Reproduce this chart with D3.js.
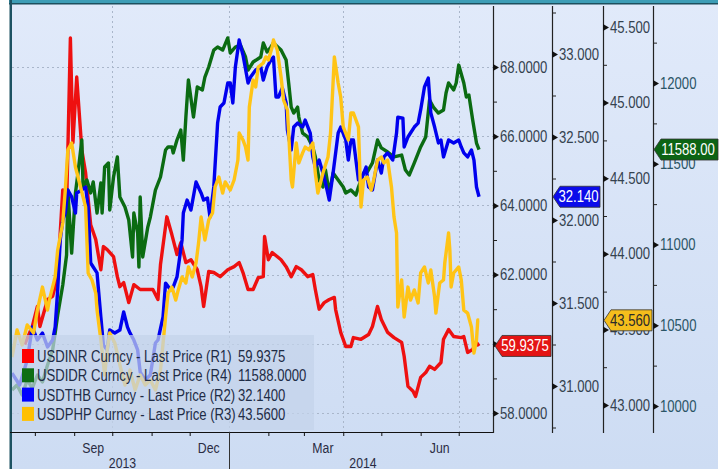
<!DOCTYPE html>
<html><head><meta charset="utf-8">
<script src="https://cdn.jsdelivr.net/npm/d3@7"></script>
<style>
body{margin:0;background:#ffffff;}
svg{display:block;font-family:"Liberation Sans",Arial,sans-serif;}
</style>
</head><body>
<svg id="chart" width="720" height="469"></svg>
<script>
// ---------- DATA ----------
const startDate = "2013-07-14"; // day 0 of the day-offset arrays
const seriesNames = ["USDINR Curncy - Last Price (R1)","USDIDR Curncy - Last Price (R4)","USDTHB Curncy - Last Price (R2)","USDPHP Curncy - Last Price (R3)"];
const lastValues = ["59.9375","11588.0000","32.1400","43.5600"];
const tagLabels = ["59.9375","11588.00","32.140","43.560"];

const inrDays = [10,16,20,22,28,32,36,38,40,43,46,48,51,55,58,62,66,70,72,75,80,83,85,88,92,96,101,107,111,115,117,122,126,130,133,137,141,146,149,151,155,159,164,170,175,179,182,186,190,194,198,199,202,205,212,216,220,224,228,233,237,239,242,246,250,254,255,259,263,267,269,275,281,284,288,291,296,301,307,309,312,316,318,322,326,329,333,338,340,344,348,354,356,359,363,366,368];
const inrValues = [59.98,60.50,61.08,60.50,61.28,61.37,61.94,63.21,64.45,63.96,68.84,65.81,67.71,65.61,64.94,63.44,63.01,62.14,62.81,62.72,62.52,61.94,61.65,61.77,61.19,61.71,61.57,61.57,61.57,61.28,62.29,63.67,63.15,62.58,62.92,62.35,62.43,62.14,61.65,61.08,62.09,62.06,61.94,62.14,62.23,62.35,62.06,61.57,61.57,61.91,61.94,63.10,62.43,62.64,62.43,62.23,61.94,62.23,62.14,61.94,62.00,61.57,61.00,61.19,61.28,61.34,60.99,60.33,59.92,59.92,60.18,60.13,60.27,60.50,61.08,60.70,60.33,60.18,60.04,59.64,58.77,58.63,58.48,59.03,59.17,59.35,59.26,59.46,60.13,60.41,60.21,60.18,60.21,59.75,59.84,60.04,59.9375];

const idrDays = [0,4,8,12,16,20,24,28,32,34,36,40,43,44,47,50,52,55,56,59,62,64,67,70,71,73,76,77,80,83,85,89,92,95,96,99,100,101,103,107,109,113,117,121,123,126,127,130,133,135,137,139,143,146,150,152,155,159,162,166,170,172,176,180,184,186,190,196,198,201,204,206,212,216,218,220,222,225,226,229,233,237,239,242,245,247,250,253,257,261,263,267,271,273,277,280,284,288,291,296,301,307,310,313,317,322,326,329,332,336,340,342,344,348,350,352,356,358,360,363,366,368];
const idrValues = [10099,10130,10068,10161,10111,10192,10149,10254,10347,10452,10563,10749,10935,11337,10947,11319,11443,11647,11356,11399,11319,11387,11195,11381,11195,11480,11505,11214,11418,11542,11294,11232,11152,10923,11195,11071,10861,11294,10923,11108,11170,11337,11418,11585,11604,11604,11567,11647,11709,11523,11789,12019,11789,11975,11957,12037,12099,12204,12223,12204,12279,12186,12223,12235,12161,12080,12130,12161,12248,12192,12223,12248,12204,12142,12000,11851,11814,11851,11789,11690,11666,11604,11542,11399,11356,11461,11319,11443,11399,11356,11319,11337,11306,11356,11443,11449,11505,11647,11598,11573,11542,11554,11461,11430,11505,11604,11666,11895,11851,11814,11833,11938,12000,11957,12000,12111,12000,11913,11926,11771,11628,11588];

const thbDays = [0,6,12,16,20,24,28,32,34,36,38,40,42,44,47,50,51,55,58,60,62,64,67,70,72,75,77,81,85,88,91,93,96,99,101,105,109,113,115,119,121,125,127,130,134,135,138,141,145,149,151,154,156,159,162,164,167,170,172,174,176,179,182,186,188,192,196,198,201,204,206,208,210,213,216,217,220,222,225,229,231,235,237,239,242,245,247,250,253,257,259,263,265,267,269,273,275,279,281,284,288,291,293,296,300,303,304,308,309,312,314,317,320,322,325,328,330,333,336,338,340,344,348,352,354,356,359,362,364,366,368];
const thbValues = [31.078,31.006,31.157,31.355,31.277,31.319,31.235,31.277,31.355,31.578,31.880,32.000,32.042,32.181,32.139,32.042,32.163,32.181,32.199,32.078,31.741,31.717,31.681,31.416,31.247,31.217,31.337,31.319,31.337,31.446,31.355,31.319,31.277,31.217,31.084,31.036,31.066,31.259,31.277,31.416,31.620,31.578,31.596,31.657,31.880,32.042,32.120,32.060,32.229,32.163,32.120,32.133,32.018,32.199,32.584,32.681,32.705,32.825,32.825,32.705,32.922,33.084,32.994,32.825,32.861,32.904,32.922,32.843,32.922,32.964,32.982,32.741,32.741,32.795,32.705,32.542,32.422,32.560,32.584,32.560,32.602,32.524,32.380,32.319,32.361,32.283,32.223,32.120,32.283,32.524,32.560,32.482,32.361,32.482,32.482,32.241,32.241,32.319,32.199,32.181,32.361,32.283,32.380,32.404,32.361,32.524,32.620,32.614,32.440,32.500,32.524,32.560,32.584,32.663,32.801,32.855,32.645,32.560,32.464,32.482,32.380,32.482,32.464,32.482,32.440,32.404,32.380,32.422,32.361,32.199,32.140];

const phpDays = [0,4,8,12,17,20,24,28,30,34,36,40,42,44,47,50,54,58,60,63,66,67,70,73,75,77,81,85,89,93,97,101,105,109,113,117,121,123,126,129,131,134,137,139,142,145,147,149,152,155,158,160,163,166,168,172,175,178,179,182,184,186,187,190,192,194,198,200,202,205,206,209,212,214,217,220,221,224,226,229,231,234,237,239,241,245,249,251,254,257,259,261,265,267,269,273,275,277,280,283,285,288,291,293,296,299,301,303,304,307,309,312,314,317,320,322,325,328,330,333,334,337,340,341,344,345,346,348,352,354,356,359,362,364,366,367,368];
const phpValues = [43.317,43.496,43.397,43.529,43.476,43.628,43.780,43.628,43.714,43.847,44.025,44.204,44.422,44.687,44.733,44.574,44.442,44.310,43.873,43.827,43.741,43.628,43.430,43.198,43.364,43.476,43.410,43.265,43.132,43.231,43.099,43.198,43.132,43.165,43.099,43.231,43.582,43.741,43.780,43.694,43.761,43.847,43.807,43.913,43.847,43.939,44.071,44.243,44.091,44.224,44.270,44.442,44.508,44.402,44.475,44.422,44.488,44.620,44.799,44.753,44.706,44.620,44.971,45.149,45.103,45.235,45.262,45.302,45.282,45.368,45.414,45.348,45.169,45.017,44.951,44.488,44.442,44.733,44.601,44.667,44.706,44.687,44.733,44.534,44.402,44.534,44.640,44.799,45.302,45.130,45.037,44.839,44.753,44.931,44.931,44.839,44.310,44.488,44.508,44.422,44.488,44.620,44.640,44.601,44.620,44.442,44.243,44.138,43.648,43.827,43.582,43.780,43.694,43.761,43.675,43.873,43.913,43.807,43.893,43.714,43.608,43.807,43.827,43.939,44.138,44.025,43.780,43.873,43.913,43.827,43.628,43.608,43.516,43.344,43.430,43.562,43.560];

const r1Ticks = [58,59,60,61,62,63,64,65,66,67,68];
const r1Major = [58,60,62,64,66,68];
const r2Ticks = [30.75,31,31.25,31.5,31.75,32,32.25,32.5,32.75,33,33.25];
const r2Major = [31,31.5,32,32.5,33];
const r3Ticks = [43,43.25,43.5,43.75,44,44.25,44.5,44.75,45,45.25,45.5];
const r3Major = [43,43.5,44,44.5,45,45.5];
const r4Ticks = [10000,10250,10500,10750,11000,11250,11500,11750,12000,12250];
const r4Major = [10000,10500,11000,11500,12000];
const monthLabels = ["Sep","Dec","Mar","Jun"];
const monthLabelDates = ["2013-09-16","2013-12-16","2014-03-16","2014-06-16"];
const yearLabels = ["2013","2014"];
const gridDates = ["2013-10-01","2014-01-01","2014-04-01","2014-07-01"];

// ---------- LAYOUT ----------
const SX = 0.82; // horizontal squeeze to mimic a narrow face
const svg = d3.select("#chart");
const parse = d3.timeParse("%Y-%m-%d");
const t0 = parse(startDate);
const L = 12, R = 493, T = 6, B = 432;
const colors = ["#ee1010","#0b6b12","#0000ee","#ffc416"];
const swatch = ["#ff0000","#0d6e14","#0000ff","#ffc000"];

const x = d3.scaleTime().domain([parse("2013-07-14"), parse("2014-07-28")]).range([L, R]);
const y1 = d3.scaleLinear().domain([58,68]).range([413,67]);
const y2 = d3.scaleLinear().domain([31,33]).range([386,54]);
const y3 = d3.scaleLinear().domain([43,45.5]).range([405,27]);
const y4 = d3.scaleLinear().domain([10000,12000]).range([406,83]);

function ntext(parent, px, py, size, color, anchor, str){
  return parent.append("text").attr("transform",`translate(${px},${py}) scale(${SX},1)`)
    .attr("font-size",size).attr("fill",color).attr("text-anchor",anchor).text(str);
}

const defs = svg.append("defs");
const g = defs.append("linearGradient").attr("id","bg").attr("x1",0).attr("y1",0).attr("x2",0).attr("y2",1);
g.append("stop").attr("offset","0%").attr("stop-color","#e1eafa");
g.append("stop").attr("offset","100%").attr("stop-color","#cddcf3");
defs.append("clipPath").attr("id","plotclip").append("rect").attr("x",L).attr("y",T).attr("width",R-L).attr("height",B-T);

svg.append("rect").attr("x",11).attr("y",0).attr("width",707).attr("height",469).attr("fill","url(#bg)");
// header band
svg.append("rect").attr("x",9).attr("y",0).attr("width",709).attr("height",3).attr("fill","#3d9db6");
svg.append("rect").attr("x",9).attr("y",3).attr("width",709).attr("height",1.5).attr("fill","#1d4f5e");
svg.append("rect").attr("x",9.5).attr("y",0).attr("width",2.5).attr("height",469).attr("fill","#1d5262");

// grid
const grid = svg.append("g").attr("stroke","#a9b6ca").attr("stroke-width",1).attr("stroke-dasharray","2,3");
grid.selectAll("line.h").data(r1Major).join("line").attr("class","h")
  .attr("x1",L).attr("x2",R).attr("y1",d=>Math.round(y1(d))+0.5).attr("y2",d=>Math.round(y1(d))+0.5);
grid.selectAll("line.v").data(gridDates).join("line").attr("class","v")
  .attr("x1",d=>Math.round(x(parse(d)))+0.5).attr("x2",d=>Math.round(x(parse(d)))+0.5).attr("y1",T).attr("y2",B);

// lines
const series = [
  {days:inrDays, vals:inrValues, y:y1},
  {days:idrDays, vals:idrValues, y:y4},
  {days:thbDays, vals:thbValues, y:y2},
  {days:phpDays, vals:phpValues, y:y3}
];
const lg = svg.append("g").attr("clip-path","url(#plotclip)");
series.forEach((s,i)=>{
  const pts = s.days.map((d,k)=>[d3.timeDay.offset(t0,d), s.vals[k]]);
  const line = d3.line().x(p=>x(p[0])).y(p=>s.y(p[1])).curve(d3.curveLinear);
  lg.append("path").datum(pts).attr("d",line).attr("fill","none")
    .attr("stroke",colors[i]).attr("stroke-width",3.4).attr("stroke-linejoin","round");
});

// legend
svg.append("rect").attr("x",12).attr("y",335).attr("width",302).attr("height",95)
  .attr("fill","#c3d2ea").attr("opacity",0.72);
const leg = svg.append("g");
seriesNames.forEach((n,i)=>{
  const cy = 356 + i*19.3;
  leg.append("rect").attr("x",22).attr("y",cy-7).attr("width",12).attr("height",14).attr("fill",swatch[i]);
  ntext(leg, 37, cy+6, 16, "#1e2c46", "start", n);
  ntext(leg, 238, cy+6, 16, "#1e2c46", "start", lastValues[i]);
});

// bottom axis
svg.append("line").attr("x1",10).attr("x2",R).attr("y1",B+0.5).attr("y2",B+0.5).attr("stroke","#111").attr("stroke-width",1);
const xa = svg.append("g").attr("transform",`translate(0,${B})`)
  .call(d3.axisBottom(x).ticks(d3.timeMonth.every(1)).tickSize(4).tickFormat(""));
xa.select(".domain").remove();
xa.selectAll("line").attr("stroke","#111");
const bt = svg.append("g");
monthLabels.forEach((m,i)=>ntext(bt, x(parse(monthLabelDates[i])), 453, 15, "#2a2c44", "middle", m));
const yearStart = [x.range()[0], x(parse("2014-01-01"))];
const yearEnd = [x(parse("2014-01-01")), x.range()[1]];
yearLabels.forEach((yl,i)=>ntext(bt, (yearStart[i]+yearEnd[i])/2+2, 468, 15, "#2a2c44", "middle", yl));
svg.append("line").attr("x1",Math.round(x(parse("2014-01-01")))+0.5).attr("x2",Math.round(x(parse("2014-01-01")))+0.5)
  .attr("y1",B).attr("y2",469).attr("stroke","#333").attr("stroke-width",1);

// right axes
function rightAxis(scale, ticks, major, xpos, fmt, color){
  const ag = svg.append("g").attr("transform",`translate(${xpos},0)`);
  ag.append("line").attr("x1",0.5).attr("x2",0.5).attr("y1",T).attr("y2",B+1).attr("stroke","#222").attr("stroke-width",1.2);
  const ax = d3.axisRight(scale).tickValues(ticks).tickSize(4).tickPadding(8)
    .tickFormat(d=>major.includes(d)?fmt(d):"");
  const gg = ag.append("g").call(ax);
  gg.select(".domain").remove();
  gg.selectAll(".tick line").attr("stroke","#222").attr("stroke-width",1);
  gg.selectAll(".tick").filter(d=>major.includes(d)).select("line").remove();
  gg.selectAll(".tick").filter(d=>major.includes(d)).append("path")
    .attr("d","M0,-3.5L6,0L0,3.5Z").attr("fill","#111");
  gg.selectAll(".tick text").attr("font-size",16).attr("fill",color)
    .attr("font-family","'Liberation Sans',Arial,sans-serif")
    .attr("x",7/SX).attr("transform",`scale(${SX},1)`);
  gg.selectAll(".tick").filter(d=>scale(d)<T-2||scale(d)>B+2).remove();
}
rightAxis(y1, r1Ticks, r1Major, R, d3.format(".4f"), "#34424f");
rightAxis(y2, r2Ticks, r2Major, 552, d3.format(".3f"), "#34424f");
rightAxis(y3, r3Ticks, r3Major, 603, d3.format(".3f"), "#34424f");
rightAxis(y4, r4Ticks, r4Major, 653, d3.format("d"), "#2b5566");

// value tags
function tag(xTip, xRight, cy, fill, txtColor, label){
  const h = 10.5;
  svg.append("path").attr("d",`M${xTip},${cy}L${xTip+7},${cy-h}L${xRight},${cy-h}L${xRight},${cy+h}L${xTip+7},${cy+h}Z`)
    .attr("fill",fill).attr("stroke","#333").attr("stroke-width",0.8);
  ntext(svg, (xTip+4+xRight)/2, cy+5.5, 16, txtColor, "middle", label);
}
tag(495, 551, y1(+lastValues[0]), "#e41414", "#ffffff", tagLabels[0]);
tag(553, 600, y2(+lastValues[2]), "#0b0bea", "#ffffff", tagLabels[2]);
tag(604, 652, y3(+lastValues[3]), "#f5be1c", "#2a2a2a", tagLabels[3]);
tag(654, 718, y4(+lastValues[1]), "#0c6414", "#ffffff", tagLabels[1]);
</script>
</body></html>
